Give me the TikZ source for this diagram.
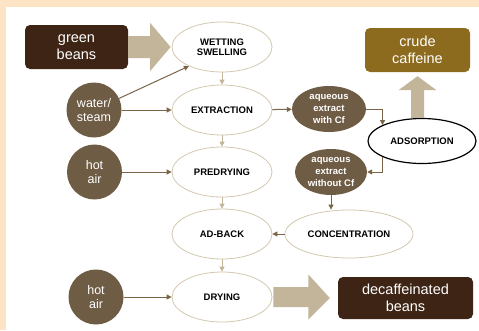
\documentclass[tikz,border=0pt]{standalone}
\usepackage{fontspec}
\setmainfont{Liberation Sans}
\usetikzlibrary{arrows.meta,calc,shapes.geometric}

\definecolor{peach}{RGB}{253,228,196}
\definecolor{darkbean}{RGB}{62,36,20}
\definecolor{roast}{RGB}{110,92,68}
\definecolor{olive}{RGB}{140,106,30}
\definecolor{sand}{RGB}{195,181,154}
\definecolor{rim}{RGB}{212,201,176}
\definecolor{wire}{RGB}{122,101,72}

\tikzset{
  stage/.style={ellipse, draw=rim, fill=white, line width=0.8pt, minimum width=100pt,
    minimum height=50pt, inner sep=0pt, align=center,
    font=\fontsize{9.5}{10.5}\selectfont\bfseries},
  feed/.style={circle, fill=roast, minimum size=55pt, inner sep=0pt, align=center,
    text=white, font=\fontsize{12.5}{14}\selectfont},
  liquor/.style={ellipse, fill=roast, minimum width=72pt, minimum height=46pt,
    inner sep=0pt, align=center, text=white, font=\fontsize{9.5}{11.7}\selectfont\bfseries},
  product/.style={rounded corners=5pt, minimum height=44pt, inner sep=0pt, align=center,
    text=white, font=\fontsize{14.5}{17}\selectfont},
  link/.style={draw=wire, line width=1pt, -{Triangle[length=5pt,width=5pt]}},
  drop/.style={draw=sand, line width=1pt, -{Triangle[length=5pt,width=5pt]}},
  bigarrow/.style={fill=sand},
}

\begin{document}
\begin{tikzpicture}[x=1pt, y=-1pt]
    % frame
    \useasboundingbox (0,0) rectangle (479,330);
    \fill[peach] (0,0) rectangle (479,330);
    \fill[white] (6,7) rectangle (479,330);

    % main line of process steps
    \node[stage] (wetting) at (222,47) {WETTING\\SWELLING};
    \node[stage] (extraction) at (222,110) {EXTRACTION};
    \node[stage] (predrying) at (222,172) {PREDRYING};
    \node[stage] (adback) at (222,234) {AD-BACK};
    \node[stage] (drying) at (222,297) {DRYING};

    % inputs
    \node[product, fill=darkbean, minimum width=103pt] (beans) at (76.5,47) {green\\beans};
    \node[feed] (water) at (94,110) {water/\\steam};
    \node[feed] (air1) at (94.5,172) {hot\\air};
    \node[feed] (air2) at (96,297) {hot\\air};

    % caffeine loop
    \node[liquor, minimum width=74pt] (withcf) at (329,109) {aqueous\\extract\\with Cf};
    \node[liquor] (nocf) at (331,172) {aqueous\\extract\\without Cf};
    \node[stage, minimum width=128pt, minimum height=48pt] (conc) at (349,234) {CONCENTRATION};
    \node[stage, draw=black, line width=1.2pt, minimum width=108pt, minimum height=45pt]
      (adsorption) at (422,141) {ADSORPTION};

    % outputs
    \node[product, fill=olive, minimum width=105pt] (crude) at (417.5,50) {crude\\caffeine};
    \node[product, fill=darkbean, minimum width=135pt, minimum height=42pt]
      (decaf) at (405.5,298) {decaffeinated\\beans};

    % fat arrows
    \fill[bigarrow] ($(beans.east)+(0,-11)$) -- ++(22,0) -- ++(0,-13)
      -- ($(wetting.west)+(-1,0)$) -- ($(beans.east)+(22,24)$) -- ++(0,-13)
      -- ($(beans.east)+(0,11)$) -- cycle;
    \fill[bigarrow] ($(crude.south)+(0,4)$) -- ++(19,14) -- ++(-12.5,0)
      -- ($(crude.south |- adsorption.north)+(6.5,0)$) -- ++(-13,0)
      -- ($(crude.south)+(-6.5,18)$) -- ++(-12.5,0) -- cycle;
    \fill[bigarrow] ($(drying.east)+(1,-10)$) -- ++(35,0) -- ++(0,-12.5)
      -- ($(decaf.west)+(-8,0)$) -- ($(drying.east)+(36,22.5)$) -- ++(0,-12.5)
      -- ($(drying.east)+(1,10)$) -- cycle;

    % step to step
    \draw[drop] (wetting) -- (extraction);
    \draw[drop] (extraction) -- (predrying);
    \draw[drop] (predrying) -- (adback);
    \draw[drop] (adback) -- (drying);

    % feeds
    \draw[link] (water) -- (wetting.210);
    \draw[link] (water) -- (extraction);
    \draw[link] (air1) -- (predrying);
    \draw[link] (air2) -- (drying);

    % extract through adsorption and back
    \draw[link] (extraction) -- (withcf);
    \draw[link] (withcf.east) -| (adsorption.158);
    \draw[link] (adsorption.202) |- (nocf.east);
    \draw[link] (nocf.south) -- (nocf.south |- conc.north);
    \draw[link] (conc) -- (adback);
\end{tikzpicture}
\end{document}
